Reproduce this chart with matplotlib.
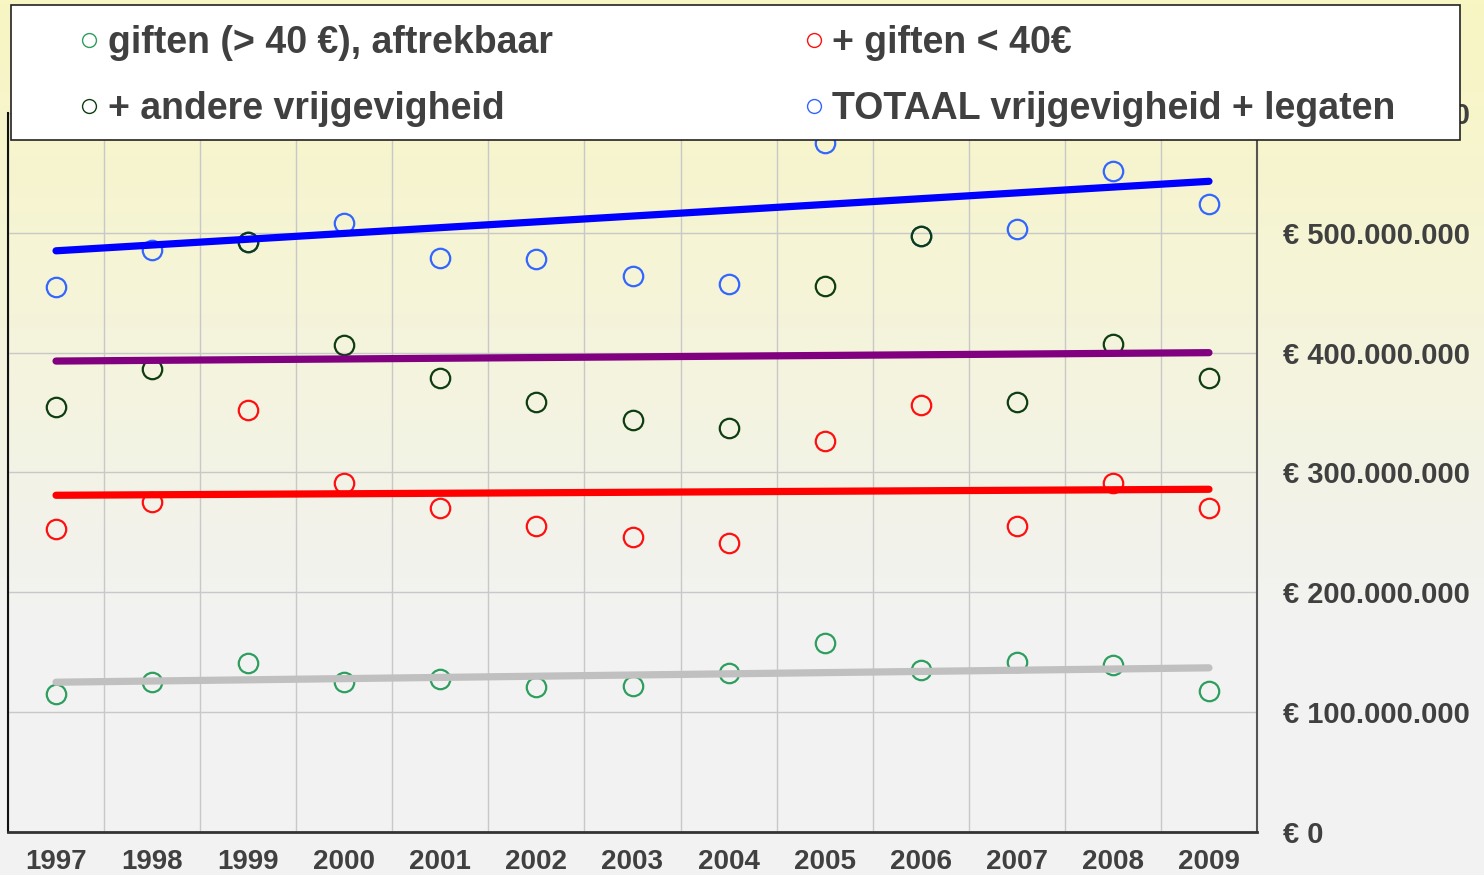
import numpy as np
import matplotlib
matplotlib.use("Agg")
import matplotlib.pyplot as plt
from matplotlib.lines import Line2D
from matplotlib.patches import Rectangle
from matplotlib.colors import LinearSegmentedColormap

plt.rcParams['font.family'] = ['Liberation Sans', 'DejaVu Sans']
plt.rcParams['font.weight'] = 'bold'

# values in millions of euro
years = [1997, 1998, 1999, 2000, 2001, 2002, 2003, 2004, 2005, 2006, 2007, 2008, 2009]
giften_aftrekbaar = [115, 125, 141, 125, 128, 121, 122, 133, 158, 135, 142, 139, 118]
giften_klein = [253, 275, 352, 291, 270, 255, 246, 241, 326, 356, 255, 291, 270]
andere = [355, 386, 492, 406, 379, 359, 344, 337, 456, 497, 359, 407, 379]
totaal = [455, 486, 492, 508, 479, 478, 464, 457, 575, 497, 503, 552, 524]

# trend lines (start 1997, end 2009)
trend_totaal = [485, 543]
trend_andere = [393, 400]
trend_klein = [281, 286]
trend_aftrekbaar = [125, 137]

labels = ['giften (> 40 €), aftrekbaar', '+ andere vrijgevigheid',
          '+ giften < 40€', 'TOTAAL vrijgevigheid + legaten']

txt = '#404040'

fig = plt.figure(figsize=(14.84, 8.75), dpi=100)

# background gradient, yellow at the top to grey lower down
bg = fig.add_axes([0, 0, 1, 1], zorder=-10)
cmap = LinearSegmentedColormap.from_list('bg', [(0, '#f8f6c2'), (0.72, '#f2f2f2'), (1, '#f2f2f2')])
grad = np.linspace(0, 1, 256).reshape(-1, 1)
bg.imshow(grad, aspect='auto', cmap=cmap, extent=[0, 1, 0, 1], origin='upper')
bg.axis('off')

ax = fig.add_axes([8 / 1484, 43 / 875, 1249 / 1484, 719 / 875])
ax.set_facecolor('none')

x = np.arange(len(years))

ax.plot(x, totaal, 'o', ms=14, mfc='none', mec='#3366ff', mew=1.6, zorder=3)
ax.plot(x, giften_aftrekbaar, 'o', ms=14, mfc='none', mec='#2e9e5e', mew=1.6, zorder=3)
ax.plot(x, giften_klein, 'o', ms=14, mfc='none', mec='#ff1010', mew=1.6, zorder=3)
ax.plot(x, andere, 'o', ms=14, mfc='none', mec='#0f3d12', mew=1.6, zorder=3)

ends = [x[0], x[-1]]
ax.plot(ends, trend_totaal, color='#0000ff', lw=5.2, solid_capstyle='round', zorder=4)
ax.plot(ends, trend_andere, color='#800080', lw=5.2, solid_capstyle='round', zorder=4)
ax.plot(ends, trend_klein, color='#ff0000', lw=5.2, solid_capstyle='round', zorder=4)
ax.plot(ends, trend_aftrekbaar, color='#c0c0c0', lw=5.2, solid_capstyle='round', zorder=4)

ax.set_xlim(-0.5, len(years) - 0.5)
ax.set_ylim(0, 600)
ax.set_xticks(x)
ax.set_xticklabels([str(y) for y in years])
ax.set_xticks(np.arange(-0.5, len(years)), minor=True)
yt = np.arange(0, 700, 100)
ax.set_yticks(yt)
ax.set_yticklabels(['€ ' + f'{v * 1000000:,}'.replace(',', '.') for v in yt])
ax.yaxis.tick_right()
ax.tick_params(axis='y', length=0, pad=19, labelsize=21, labelcolor=txt)
ax.tick_params(axis='x', which='major', length=0, pad=12, labelsize=20, labelcolor=txt)
ax.tick_params(axis='x', which='minor', length=0)
ax.grid(True, axis='y', color='#c8c8c8', lw=1)
ax.grid(True, axis='x', which='minor', color='#c8c8c8', lw=1)
ax.set_axisbelow(True)

ax.spines['top'].set_visible(False)
ax.spines['left'].set_color('#111111')
ax.spines['left'].set_linewidth(1.5)
ax.spines['bottom'].set_color('#333333')
ax.spines['bottom'].set_linewidth(2)
ax.spines['right'].set_color('#555555')
ax.spines['right'].set_linewidth(1.5)

# legend box on top of everything (it hides the top tick label, as in the original)
fig.add_artist(Rectangle((11 / 1484, 1 - 140 / 875), 1449 / 1484, 135 / 875,
                         transform=fig.transFigure, facecolor='white',
                         edgecolor='#222222', lw=1.2, zorder=1))
handles = [Line2D([], [], ls='none', marker='o', ms=10, mfc='none', mew=1, mec=c)
           for c in ['#2e9e5e', '#0f3d12', '#ff1010', '#3366ff']]
fig.legend(handles, labels, ncol=2, loc='upper left',
           bbox_to_anchor=(78 / 1484, 1 - 25 / 875), frameon=False,
           prop={'size': 27, 'weight': 'bold'}, labelcolor=txt,
           handlelength=0.6, handletextpad=0.2, columnspacing=6.65,
           labelspacing=0.79, borderpad=0, borderaxespad=0)

fig.savefig('out.png', dpi=100)
